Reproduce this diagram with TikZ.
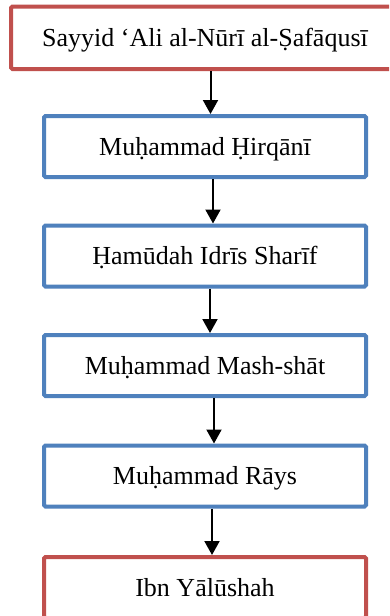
\documentclass[tikz,border=0pt]{standalone}
\usepackage{fontspec}
\setmainfont{Liberation Serif}
\usetikzlibrary{arrows.meta}
\definecolor{boxred}{RGB}{192,80,77}
\definecolor{boxblue}{RGB}{79,129,189}
\tikzset{
  chainbox/.style={draw, line width=4pt, rounded corners=1.5pt, fill=white,
    minimum width=322pt, minimum height=61pt, inner sep=0pt, outer sep=2pt,
    font=\fontsize{26}{30}\selectfont, text height=17pt, text depth=0pt},
  redbox/.style={chainbox, draw=boxred},
  bluebox/.style={chainbox, draw=boxblue},
  arr/.style={line width=2pt, -{Triangle[width=15pt,length=14pt]}}
}
\begin{document}
\begin{tikzpicture}[x=1pt,y=1pt]
\clip (0,0) rectangle (389,-616);
\fill[white] (0,0) rectangle (389,-616);
\node[redbox, minimum width=388pt, minimum height=62.5pt] (n0) at (205,-37.75) {Sayyid ‘Ali al-Nūrī al-Ṣafāqusī};
\node[bluebox] (n1) at (205,-146.5) {Muḥammad Ḥirqānī};
\node[bluebox] (n2) at (205,-256) {Ḥamūdah Idrīs Sharīf};
\node[bluebox] (n3) at (205,-365.5) {Muḥammad Mash-shāt};
\node[bluebox] (n4) at (205,-476) {Muḥammad Rāys};
\node[redbox] (n5) at (205,-587.5) {Ibn Yālūshah};
\draw[arr] ([xshift=5.5pt]n0.south) -- ([xshift=5.5pt]n1.north);
\draw[arr] ([xshift=8pt]n1.south) -- ([xshift=8pt]n2.north);
\draw[arr] ([xshift=5pt]n2.south) -- ([xshift=5pt]n3.north);
\draw[arr] ([xshift=9pt]n3.south) -- ([xshift=9pt]n4.north);
\draw[arr] ([xshift=7pt]n4.south) -- ([xshift=7pt]n5.north);
\end{tikzpicture}
\end{document}
